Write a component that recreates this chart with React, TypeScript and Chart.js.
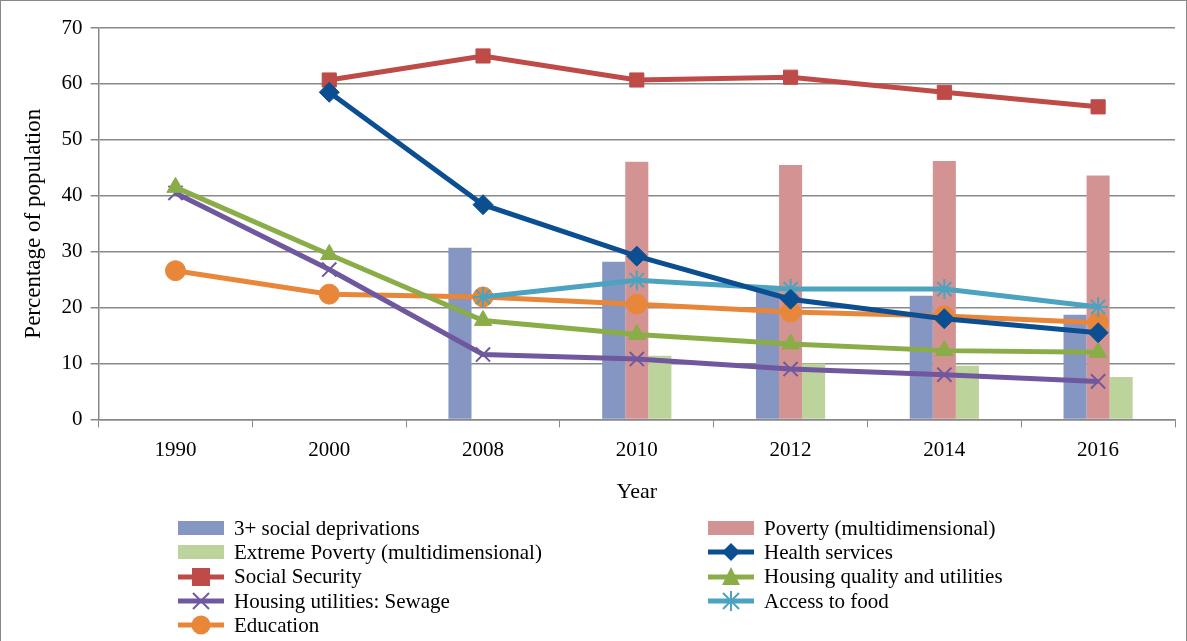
import React, { useEffect, useRef } from "react";
import { Chart, registerables } from "chart.js";
Chart.register(...registerables);

const years = ["1990", "2000", "2008", "2010", "2012", "2014", "2016"];
const socialDepr = [null, null, 30.7, 28.2, 23.4, 22.1, 18.7];
const poverty = [null, null, null, 46.1, 45.5, 46.2, 43.6];
const extreme = [null, null, null, 11.4, 10.0, 9.6, 7.6];
const health = [null, 58.5, 38.4, 29.2, 21.5, 18.0, 15.5];
const socialSec = [null, 60.7, 65.0, 60.7, 61.2, 58.5, 55.9];
const housing = [41.5, 29.5, 17.7, 15.2, 13.5, 12.3, 12.0];
const sewage = [40.5, 26.8, 11.6, 10.8, 9.0, 8.0, 6.8];
const food = [null, null, 21.9, 24.9, 23.3, 23.3, 20.1];
const education = [26.6, 22.4, 21.9, 20.6, 19.2, 18.5, 17.3];

const C = {
  depr: "#8496C1", pov: "#D49393", ext: "#BDD39C",
  health: "#0B4E91", sec: "#BE4B48", hous: "#8AAD48",
  sew: "#70589F", food: "#4BA3BF", edu: "#E8873A",
};
const FONT = "'Liberation Serif', serif";

const line = (label: string, data: any[], color: string, ps: string, r = 10) => ({
  type: "line" as const, label, data, borderColor: color, backgroundColor: color,
  borderWidth: 5, pointStyle: ps, pointRadius: r, pointBorderWidth: ps === "crossRot" || ps === "star" ? 2 : 1,
  pointBorderColor: color, spanGaps: false, order: 0,
});

const legendItems = [
  { label: "3+ social deprivations", kind: "bar", color: C.depr },
  { label: "Poverty (multidimensional)", kind: "bar", color: C.pov },
  { label: "Extreme Poverty (multidimensional)", kind: "bar", color: C.ext },
  { label: "Health services", kind: "diamond", color: C.health },
  { label: "Social Security", kind: "square", color: C.sec },
  { label: "Housing quality and utilities", kind: "triangle", color: C.hous },
  { label: "Housing utilities: Sewage", kind: "x", color: C.sew },
  { label: "Access to food", kind: "star", color: C.food },
  { label: "Education", kind: "circle", color: C.edu },
];

function Marker({ kind, color }: { kind: string; color: string }) {
  if (kind === "bar") return <div style={{ width: 46, height: 14, background: color }} />;
  let m: any = null;
  if (kind === "diamond") m = <polygon points="23,1 32,10 23,19 14,10" fill={color} />;
  if (kind === "square") m = <rect x="14" y="1" width="18" height="18" fill={color} />;
  if (kind === "triangle") m = <polygon points="23,0 32,18 14,18" fill={color} />;
  if (kind === "circle") m = <circle cx="23" cy="10" r="9.5" fill={color} />;
  if (kind === "x") m = <g stroke={color} strokeWidth="2"><line x1="15" y1="2" x2="31" y2="18" /><line x1="31" y1="2" x2="15" y2="18" /></g>;
  if (kind === "star") m = <g stroke={color} strokeWidth="2"><line x1="15" y1="2" x2="31" y2="18" /><line x1="31" y1="2" x2="15" y2="18" /><line x1="23" y1="0" x2="23" y2="20" /></g>;
  return (
    <svg width="46" height="20">
      <line x1="0" y1="10" x2="46" y2="10" stroke={color} strokeWidth="5" />
      {m}
    </svg>
  );
}

export default function App() {
  const ref = useRef<HTMLCanvasElement>(null);
  useEffect(() => {
    const chart = new Chart(ref.current!, {
      data: {
        labels: years,
        datasets: [
          { type: "bar", label: "3+ social deprivations", data: socialDepr, backgroundColor: C.depr, order: 1, categoryPercentage: 0.45, barPercentage: 1 },
          { type: "bar", label: "Poverty (multidimensional)", data: poverty, backgroundColor: C.pov, order: 1, categoryPercentage: 0.45, barPercentage: 1 },
          { type: "bar", label: "Extreme Poverty (multidimensional)", data: extreme, backgroundColor: C.ext, order: 1, categoryPercentage: 0.45, barPercentage: 1 },
          line("Health services", health, C.health, "rectRot", 10),
          line("Social Security", socialSec, C.sec, "rect", 10),
          line("Housing quality and utilities", housing, C.hous, "triangle", 10),
          line("Housing utilities: Sewage", sewage, C.sew, "crossRot", 10),
          line("Access to food", food, C.food, "star", 10),
          line("Education", education, C.edu, "circle", 10),
        ] as any,
      },
      options: {
        animation: false, responsive: false, maintainAspectRatio: false,
        layout: { padding: { top: 28, right: 10, left: 16, bottom: 0 } },
        plugins: { legend: { display: false }, tooltip: { enabled: false } },
        scales: {
          x: {
            offset: true,
            grid: { display: true, drawOnChartArea: false, offset: true, tickLength: 8, color: "#888" },
            border: { color: "#888", width: 1.5 },
            ticks: { color: "#000", font: { family: FONT, size: 21 }, padding: 10 },
            title: { display: true, text: "Year", color: "#000", font: { family: FONT, size: 22 }, padding: { top: 6 } },
          },
          y: {
            min: 0, max: 70,
            ticks: { stepSize: 10, color: "#000", font: { family: FONT, size: 21 }, padding: 8 },
            grid: { color: "#888", lineWidth: 1.5, tickLength: 8 },
            border: { color: "#888", width: 1.5 },
            title: { display: true, text: "Percentage of population", color: "#000", font: { family: FONT, size: 23 }, padding: { bottom: 6 } },
          },
        },
      },
    });
    return () => chart.destroy();
  }, []);
  return (
    <div style={{ position: "absolute", left: 0, top: 0, width: 1187, height: 641, overflow: "hidden", background: "#fff", fontFamily: FONT }}>
      <canvas ref={ref} width={1187} height={509} style={{ display: "block" }} />
      <div style={{ position: "absolute", left: 0, top: 0, width: 1185, height: 660, border: "1px solid #888", pointerEvents: "none" }} />
      <div style={{ position: "absolute", left: 178, top: 516, display: "grid", gridTemplateColumns: "530px 420px", rowGap: 0 }}>
        {legendItems.map((it) => (
          <div key={it.label} style={{ display: "flex", alignItems: "center", height: 24.3, fontSize: 21 }}>
            <div style={{ width: 46, display: "flex", alignItems: "center", justifyContent: "center" }}><Marker kind={it.kind} color={it.color} /></div>
            <span style={{ marginLeft: 10, whiteSpace: "nowrap" }}>{it.label}</span>
          </div>
        ))}
      </div>
    </div>
  );
}
